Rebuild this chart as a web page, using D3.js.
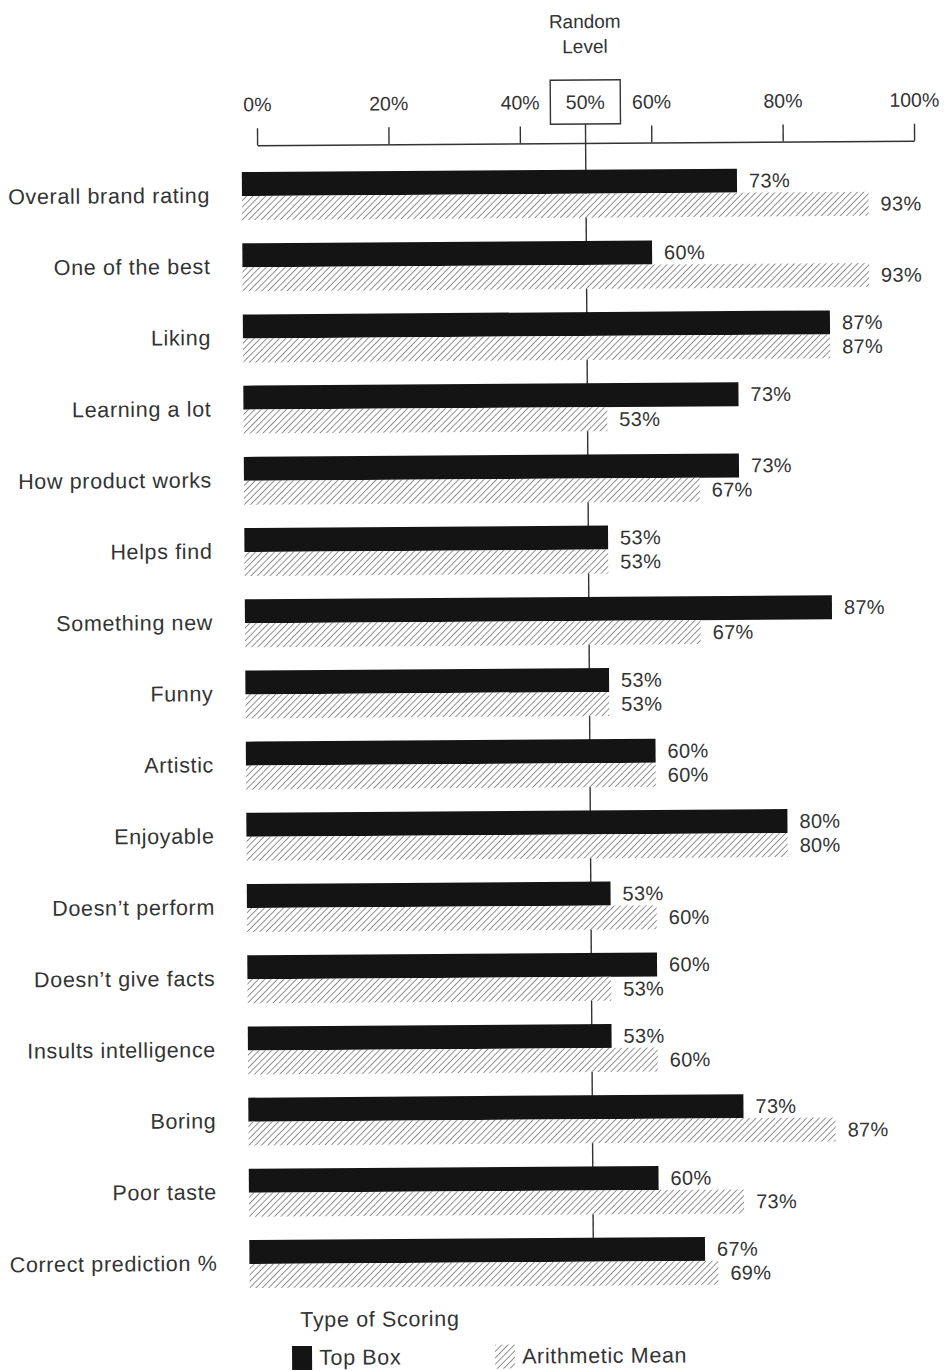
<!DOCTYPE html>
<html>
<head>
<meta charset="utf-8">
<script src="https://cdn.jsdelivr.net/npm/d3@7"></script>
<style>
  html, body { margin: 0; padding: 0; background: #fff; }
  svg { display: block; }
  text { font-family: "Liberation Sans", Arial, Helvetica, sans-serif; fill: #333; }
</style>
</head>
<body>
<script>
// ---------------- data ----------------
const categories = [
  "Overall brand rating", "One of the best", "Liking", "Learning a lot",
  "How product works", "Helps find", "Something new", "Funny", "Artistic",
  "Enjoyable", "Doesn\u2019t perform", "Doesn\u2019t give facts",
  "Insults intelligence", "Boring", "Poor taste", "Correct prediction %"
];
const topBox     = [73, 60, 87, 73, 73, 53, 87, 53, 60, 80, 53, 60, 53, 73, 60, 67];
const arithMean  = [93, 93, 87, 53, 67, 53, 67, 53, 60, 80, 60, 53, 60, 87, 73, 69];
const seriesNames = ["Top Box", "Arithmetic Mean"];
const tickValues = [0, 20, 40, 60, 80, 100];
const randomLevel = 50;
const randomLabel = ["Random", "Level"];
const legendTitle = "Type of Scoring";

// ---------------- layout ----------------
const W = 949, H = 1371;
const overhang = 15.5;     // bars start slightly left of 0%
const labelGap = 32;
const fontSize = 21.5;
const ls = 0.65;

const svg = d3.select("body").append("svg").attr("width", W).attr("height", H);
svg.append("rect").attr("width", W).attr("height", H).attr("fill", "#fff");

const defs = svg.append("defs");
const pat = defs.append("pattern")
  .attr("id", "hatch").attr("patternUnits", "userSpaceOnUse")
  .attr("width", 4.5).attr("height", 4.5)
  .attr("patternTransform", "rotate(45)");
pat.append("rect").attr("width", 4.5).attr("height", 4.5).attr("fill", "#fff");
pat.append("line").attr("x1", 0).attr("y1", 0).attr("x2", 0).attr("y2", 4.5)
  .attr("stroke", "#4a4a4a").attr("stroke-width", 1.2);

// slight scan rotation
const g = svg.append("g").attr("transform", "rotate(-0.4,585,700)");

const x = d3.scaleLinear().domain([0, 100]).range([261, 918]);
const y = d3.scaleBand().domain(categories).range([169.7, 1285.7])
  .paddingInner(0.326).paddingOuter(0);
const ys = d3.scaleBand().domain(seriesNames).range([0, y.bandwidth()]);

const rows = categories.map((c, i) => ({ cat: c, vals: [
  { s: seriesNames[0], v: topBox[i] },
  { s: seriesNames[1], v: arithMean[i] }
]}));

// ---------------- axis ----------------
const axisY = 143;
const axis = d3.axisTop(x).tickValues(tickValues).tickSize(17).tickSizeOuter(0)
  .tickPadding(17).tickFormat(d => d + "%");
const ag = g.append("g").attr("transform", `translate(0,${axisY})`).call(axis);
ag.select(".domain").attr("stroke", "#333").attr("stroke-width", 1.4);
ag.selectAll(".tick line").attr("stroke", "#333").attr("stroke-width", 1.4);
ag.selectAll(".tick text").attr("font-size", 19.5).attr("fill", "#333")
  .attr("font-family", "Liberation Sans, Arial, sans-serif");

// random-level box
const boxW = 70, boxH = 44, boxBottom = 124;
g.append("rect").attr("x", x(randomLevel) - boxW / 2).attr("y", boxBottom - boxH)
  .attr("width", boxW).attr("height", boxH)
  .attr("fill", "#fff").attr("stroke", "#333").attr("stroke-width", 1.4);
g.append("text").attr("x", x(randomLevel)).attr("y", 109)
  .attr("text-anchor", "middle").attr("font-size", 19.5).text(randomLevel + "%");
g.selectAll("text.rl").data(randomLabel).join("text").attr("class", "rl")
  .attr("x", x(randomLevel)).attr("y", (d, i) => 28 + i * 25)
  .attr("text-anchor", "middle").attr("font-size", 19).text(d => d);

// random-level vertical line (behind bars)
g.append("line").attr("x1", x(randomLevel)).attr("x2", x(randomLevel))
  .attr("y1", boxBottom).attr("y2", y.range()[1])
  .attr("stroke", "#333").attr("stroke-width", 1.4);

// ---------------- bars ----------------
const rg = g.selectAll("g.row").data(rows).join("g").attr("class", "row")
  .attr("transform", d => `translate(0,${y(d.cat)})`);

rg.selectAll("rect.bar").data(d => d.vals).join("rect").attr("class", "bar")
  .attr("x", x(0) - overhang)
  .attr("y", d => ys(d.s))
  .attr("width", d => x(d.v) - (x(0) - overhang))
  .attr("height", ys.bandwidth())
  .attr("fill", (d, i) => i === 0 ? "#141414" : "url(#hatch)");

rg.selectAll("text.val").data(d => d.vals).join("text").attr("class", "val")
  .attr("x", d => x(d.v) + 12)
  .attr("y", d => ys(d.s) + ys.bandwidth() / 2)
  .attr("dy", "0.35em").attr("font-size", 20).attr("letter-spacing", 0.3)
  .text(d => d.v + "%");

rg.append("text")
  .attr("x", x(0) - overhang - labelGap)
  .attr("y", y.bandwidth() / 2).attr("dy", "0.3em")
  .attr("text-anchor", "end").attr("font-size", fontSize)
  .attr("letter-spacing", ls)
  .text(d => d.cat);

// ---------------- legend ----------------
g.append("text").attr("x", 296).attr("y", 1325).attr("font-size", fontSize)
  .attr("letter-spacing", ls).text(legendTitle);
const lg = g.selectAll("g.leg").data(seriesNames).join("g").attr("class", "leg")
  .attr("transform", (d, i) => `translate(${i === 0 ? 287.5 : 490.5},1344)`);
lg.append("rect").attr("width", 20).attr("height", 24)
  .attr("fill", (d, i) => i === 0 ? "#141414" : "url(#hatch)");
lg.append("text").attr("x", 27).attr("y", 19).attr("font-size", fontSize)
  .attr("letter-spacing", ls).text(d => d);
</script>
</body>
</html>
